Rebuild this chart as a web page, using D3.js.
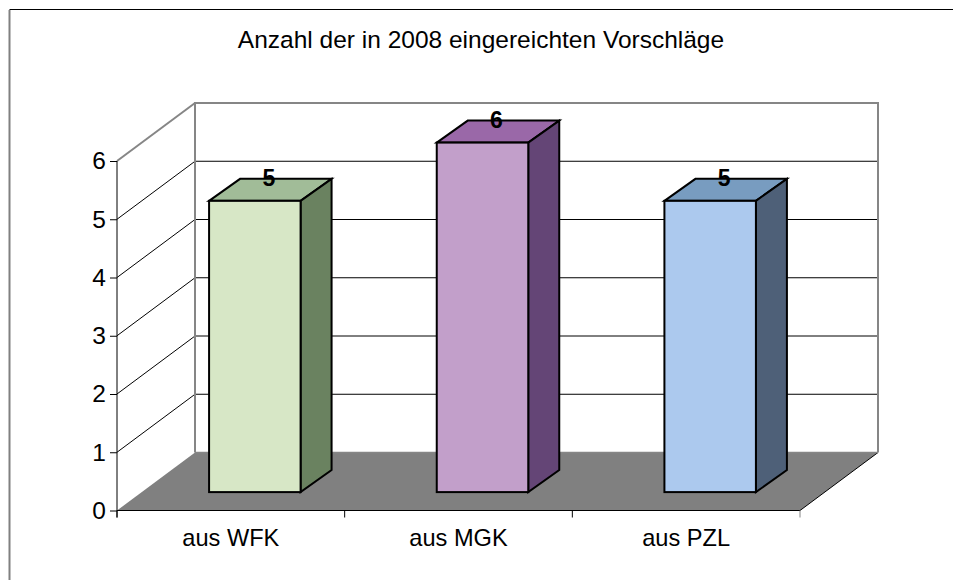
<!DOCTYPE html>
<html><head><meta charset="utf-8">
<script src="https://cdn.jsdelivr.net/npm/d3@7"></script>
<style>html,body{margin:0;padding:0;background:#fff}svg{display:block}text{font-family:"Liberation Sans",Arial,sans-serif;fill:#000}</style>
</head><body>
<svg id="c" width="953" height="580"></svg>
<script>
const chartTitle = "Anzahl der in 2008 eingereichten Vorschläge";
const categories = ["aus WFK", "aus MGK", "aus PZL"];
const values = [5, 6, 5];
const yTicks = [0, 1, 2, 3, 4, 5, 6];
const frontColors = ["#d7e7c6", "#c29fca", "#acc9ee"];
const topColors = ["#a1bc98", "#9a68a8", "#789cc0"];
const sideColors = ["#6a8260", "#644576", "#4e6078"];

const svg = d3.select("#c");
const x0 = 117, x1 = 800, dx = 78, dy = -58;
const y = d3.scaleLinear().domain([0, 6]).range([510.5, 161]);
const x = d3.scaleBand().domain(categories).range([x0, x1]).paddingInner(0).paddingOuter(0);

// frame
svg.append("path").attr("d", "M9.5,9.5H953").attr("fill", "none").attr("stroke", "#000").attr("stroke-width", 1);
svg.append("path").attr("d", "M9.5,10V580").attr("fill", "none").attr("stroke", "#808080").attr("stroke-width", 2);

// title
svg.append("text").attr("x", 481).attr("y", 48).attr("text-anchor", "middle").attr("font-size", 24.5).text(chartTitle);

const gray = "#868686";
// floor
svg.append("path").attr("d", `M${x0},${y(0)}L${x0+dx},${y(0)+dy}H${x1+dx}L${x1},${y(0)}Z`).attr("fill", "#808080");
svg.append("line").attr("x1", x1).attr("y1", y(0)).attr("x2", x1+dx).attr("y2", y(0)+dy).attr("stroke", "#000");

// gridlines on side wall and back wall
yTicks.filter(t => t > 0).forEach(t => {
  svg.append("path").attr("fill", "none").attr("stroke", t === 6 ? gray : "#000").attr("stroke-width", t === 6 ? 2 : 1)
    .attr("d", `M${x0},${y(t)}L${x0+dx},${y(t)+dy}`);
  svg.append("line").attr("stroke", "#000").attr("x1", x0+dx).attr("x2", x1+dx).attr("y1", y(t)+dy).attr("y2", y(t)+dy);
});
// back wall border
svg.append("path").attr("fill", "none").attr("stroke", gray).attr("stroke-width", 2)
  .attr("d", `M${x0+dx},${y(0)+dy}V${y(6)+dy}H${x1+dx}V${y(0)+dy}`);
svg.append("line").attr("stroke", gray).attr("stroke-width", 1.5).attr("x1", x0+dx).attr("x2", x1+dx).attr("y1", y(0)+dy).attr("y2", y(0)+dy);

// axes
const yAxis = d3.axisLeft(y).tickValues(yTicks).tickSize(7).tickPadding(4).tickFormat(d3.format("d"));
const ga = svg.append("g").attr("transform", `translate(${x0},0)`).call(yAxis);
ga.select(".domain").attr("d", `M0,${y(6)}V${y(0)+7}`).attr("stroke", "#000");
ga.selectAll("text").attr("font-size", 24.5).attr("font-family", '"Liberation Sans",Arial,sans-serif');
const tickPositions = [0, 1, 2, 3].map(i => x0 + i * x.step());
svg.append("line").attr("x1", x0).attr("x2", x1).attr("y1", y(0)).attr("y2", y(0)).attr("stroke", "#000").attr("stroke-width", 1.2);
tickPositions.forEach((p, i) => svg.append("line").attr("x1", p).attr("x2", p).attr("y1", y(0)).attr("y2", y(0)+7).attr("stroke", i === 3 ? gray : "#000"));
categories.forEach(c => svg.append("text").attr("x", x(c)+x.bandwidth()/2).attr("y", 546).attr("text-anchor", "middle").attr("font-size", 23.6).text(c));

// bars
const barW = 91.5, depthX = 31, depthY = -22, liftX = 24, liftY = 18.4;
const bars = svg.append("g").attr("stroke", "#000").attr("stroke-width", 2).attr("stroke-linejoin", "miter");
categories.forEach((c, i) => {
  const l = x(c) + (x.bandwidth() - barW) / 2 + liftX, r = l + barW;
  const b = y(0) - liftY, t = y(values[i]) - liftY;
  bars.append("path").attr("fill", topColors[i]).attr("d", `M${l},${t}L${l+depthX},${t+depthY}H${r+depthX}L${r},${t}Z`);
  bars.append("path").attr("fill", sideColors[i]).attr("d", `M${r},${t}L${r+depthX},${t+depthY}V${b+depthY}L${r},${b}Z`);
  bars.append("rect").attr("fill", frontColors[i]).attr("x", l).attr("y", t).attr("width", barW).attr("height", b - t);
  svg.append("text").attr("x", l + barW/2 + 14).attr("y", t - 15).attr("text-anchor", "middle").attr("font-size", 23).attr("font-weight", "bold").text(values[i]);
});
</script>
</body></html>
